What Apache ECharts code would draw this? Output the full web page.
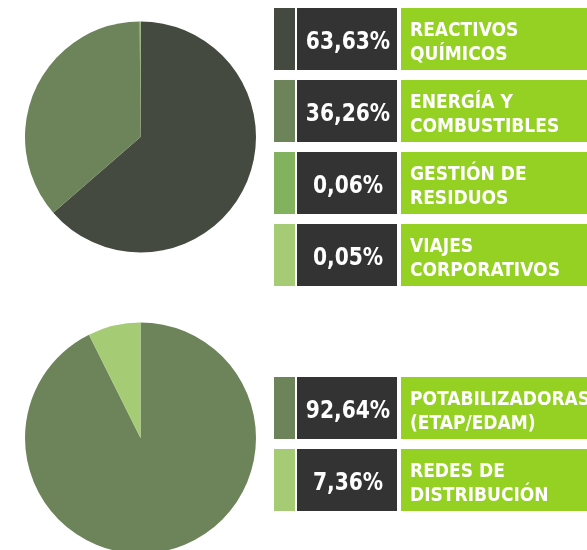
<!DOCTYPE html>
<html>
<head>
<meta charset="utf-8">
<script src="https://cdn.jsdelivr.net/npm/echarts@6/dist/echarts.min.js"></script>
<style>
  html, body { margin: 0; padding: 0; background: #ffffff; }
  #chart { width: 587px; height: 550px; }
</style>
</head>
<body>
<div id="chart"></div>
<script>
// Distribución de consumos por categoría (%)
const categoriasA = ['REACTIVOS\nQUÍMICOS', 'ENERGÍA Y\nCOMBUSTIBLES', 'GESTIÓN DE\nRESIDUOS', 'VIAJES\nCORPORATIVOS'];
const valoresA = [63.63, 36.26, 0.06, 0.05];
const coloresA = ['#444a3f', '#6d845a', '#82b25d', '#a5cc75'];

const categoriasB = ['POTABILIZADORAS\n(ETAP/EDAM)', 'REDES DE\nDISTRIBUCIÓN'];
const valoresB = [92.64, 7.36];
const coloresB = ['#6d845a', '#a5cc75'];

const FONT = '"DejaVu Sans Condensed", "DejaVu Sans", sans-serif';
const fmt = v => v.toFixed(2).replace('.', ',') + '%';

// legend block: swatch, value box, label box
function legendRows(cats, vals, cols, top0) {
  const els = [];
  cats.forEach((c, i) => {
    const y = top0 + i * 72;
    els.push({ type: 'rect', shape: { x: 274, y: y, width: 21, height: 62 }, style: { fill: cols[i] } });
    els.push({ type: 'rect', shape: { x: 297, y: y, width: 100, height: 62 }, style: { fill: '#333333' } });
    els.push({ type: 'rect', shape: { x: 401, y: y, width: 200, height: 62 }, style: { fill: '#95d123' } });
    els.push({ type: 'text', x: 348, y: y + 34, scaleX: 0.9, originX: 0, originY: 0, style: {
      text: fmt(vals[i]), fill: '#ffffff', font: 'bold 25px ' + FONT,
      align: 'center', verticalAlign: 'middle' } });
    els.push({ type: 'text', x: 410, y: y + 35, style: {
      text: c, fill: '#ffffff', font: 'bold 19px ' + FONT, lineHeight: 24,
      align: 'left', verticalAlign: 'middle' } });
  });
  return els;
}

const chart = echarts.init(document.getElementById('chart'), null, { renderer: 'canvas' });
chart.setOption({
  animation: false,
  backgroundColor: '#ffffff',
  series: [
    {
      type: 'pie', center: [140.5, 137], radius: 115.5, startAngle: 90, clockwise: true,
      silent: true, label: { show: false }, labelLine: { show: false },
      minAngle: 0, avoidLabelOverlap: false,
      data: categoriasA.map((c, i) => ({ name: c, value: valoresA[i], itemStyle: { color: coloresA[i] } }))
    },
    {
      type: 'pie', center: [140.5, 438], radius: 115.5, startAngle: 90, clockwise: true,
      silent: true, label: { show: false }, labelLine: { show: false },
      data: categoriasB.map((c, i) => ({ name: c, value: valoresB[i], itemStyle: { color: coloresB[i] } }))
    }
  ],
  graphic: legendRows(categoriasA, valoresA, coloresA, 8).concat(legendRows(categoriasB, valoresB, coloresB, 377))
});
</script>
</body>
</html>
